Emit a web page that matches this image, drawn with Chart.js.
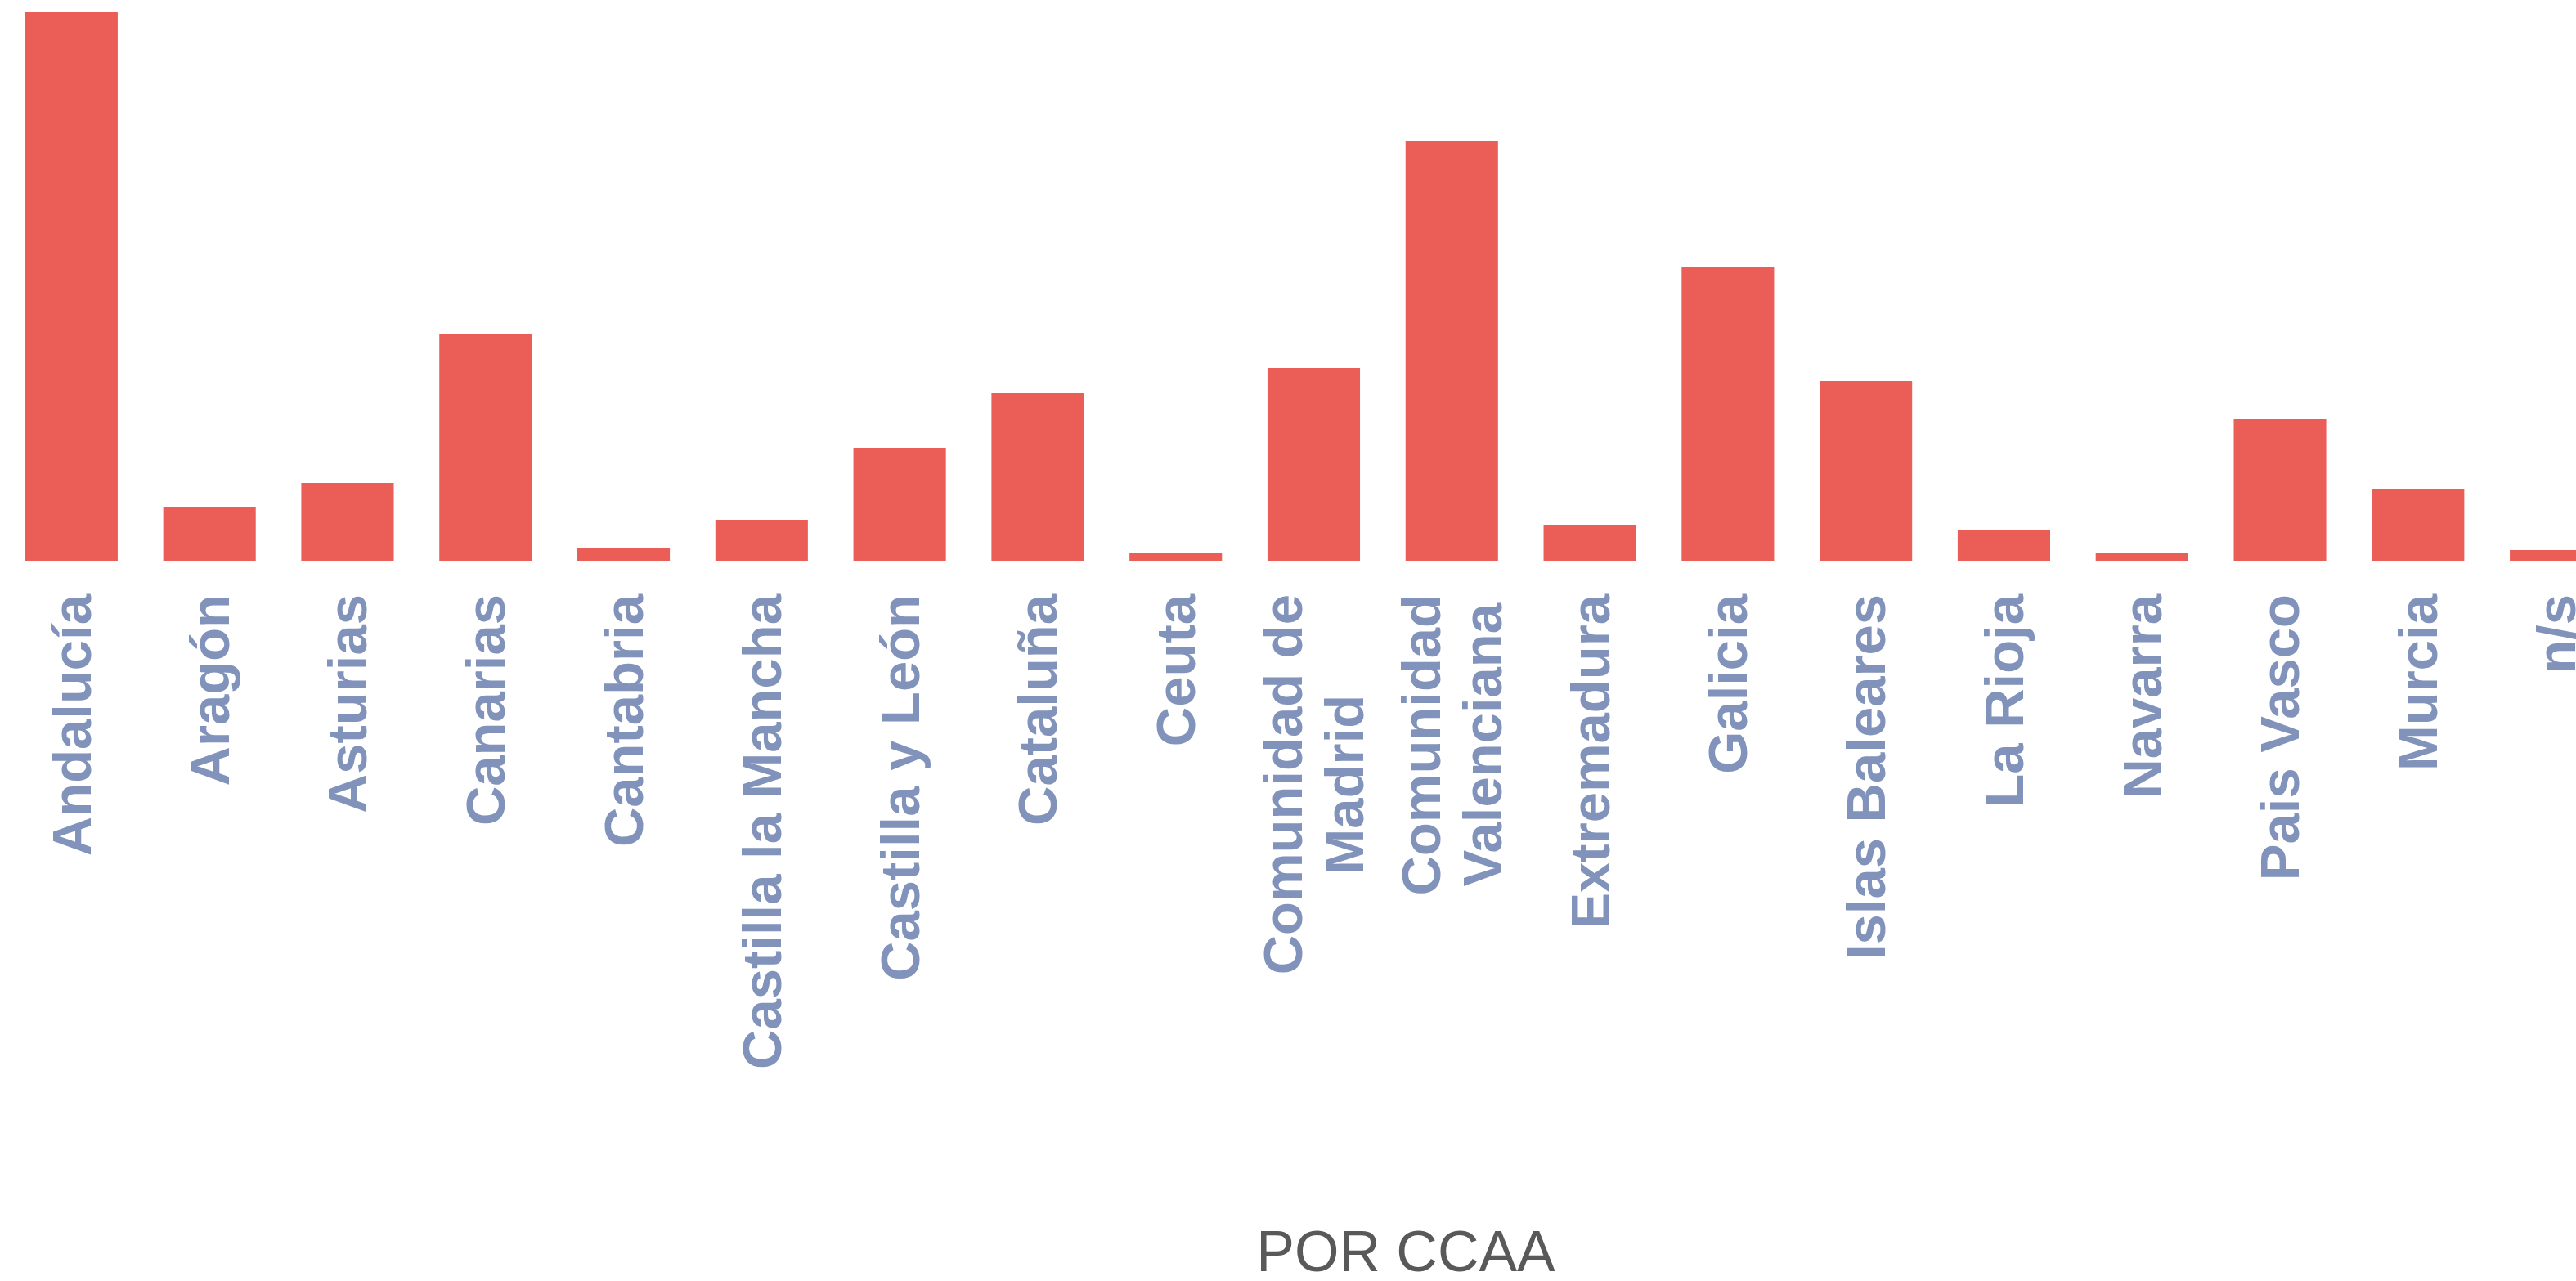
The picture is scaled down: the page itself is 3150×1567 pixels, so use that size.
<!DOCTYPE html>
<html>
<head>
<meta charset="utf-8">
<style>
  html, body { margin: 0; padding: 0; background: #ffffff; overflow: hidden; }
  #wrap { width: 3435px; height: 1567px; }
</style>
<script src="https://cdn.jsdelivr.net/npm/chart.js@4/dist/chart.umd.min.js"></script>
</head>
<body>
<div id="wrap"><canvas id="c" width="3435" height="1567"></canvas></div>
<script>
const categories = [
  'Andalucía', 'Aragón', 'Asturias', 'Canarias', 'Cantabria',
  'Castilla la Mancha', 'Castilla y León', 'Cataluña', 'Ceuta',
  ['Comunidad de', 'Madrid'], ['Comunidad', 'Valenciana'],
  'Extremadura', 'Galicia', 'Islas Baleares', 'La Rioja', 'Navarra',
  'Pais Vasco', 'Murcia', 'n/s'
];
const values = [671, 66, 95, 277, 16, 50, 138, 205, 9, 236, 513, 44, 359, 220, 38, 9, 173, 88, 13];
const titleText = 'POR CCAA';

const barColor = '#EB5D57';
const labelColor = '#8193BA';
const labelFontSize = 67;
const labelLineHeight = 75;

// Centre multi-line rotated tick labels on their tick (lines centred on each other),
// as in the reference; the text itself is still drawn by the category scale.
const centreLabels = {
  id: 'centreLabels',
  beforeDraw(chart) {
    const scale = chart.scales.x;
    const items = scale.getLabelItems();
    const ctx = chart.ctx;
    items.forEach(item => {
      if (item._adjusted) return;
      item._adjusted = true;
      const lines = Array.isArray(item.label) ? item.label : [item.label];
      const n = lines.length;
      const t = item.options.translation;
      t[0] += 5 - (n - 1) * labelLineHeight / 2;
      if (n > 1) {
        ctx.save();
        ctx.font = item.font.string;
        const maxW = Math.max(...lines.map(l => ctx.measureText(l).width));
        ctx.restore();
        item.options.textAlign = 'center';
        t[1] += maxW / 2;
      }
    });
  }
};

new Chart(document.getElementById('c'), {
  type: 'bar',
  data: {
    labels: categories,
    datasets: [{
      data: values,
      backgroundColor: barColor,
      borderWidth: 0,
      categoryPercentage: 1.0,
      barPercentage: 0.67
    }]
  },
  plugins: [centreLabels],
  options: {
    responsive: false,
    animation: false,
    devicePixelRatio: 1,
    layout: { padding: { left: 3, right: 0, top: 15, bottom: 0 } },
    plugins: {
      legend: { display: false },
      tooltip: { enabled: false },
      title: {
        display: true,
        position: 'bottom',
        text: titleText,
        color: '#595959',
        font: { family: 'Liberation Sans', size: 70, weight: 'normal', lineHeight: 0.9 },
        padding: 0
      }
    },
    scales: {
      x: {
        grid: { display: false, drawTicks: false },
        border: { display: false },
        ticks: {
          autoSkip: false,
          minRotation: 90,
          maxRotation: 90,
          padding: 41,
          color: labelColor,
          font: { family: 'Liberation Sans', size: labelFontSize, weight: 'bold', lineHeight: labelLineHeight / labelFontSize }
        },
        afterFit: (s) => { s.height = 818; }
      },
      y: {
        position: 'right',
        beginAtZero: true,
        min: 0,
        max: 671,
        grid: { display: false, drawTicks: false },
        border: { display: false },
        ticks: { display: false },
        afterFit: (s) => { s.width = 225; }
      }
    }
  }
});
</script>
</body>
</html>
